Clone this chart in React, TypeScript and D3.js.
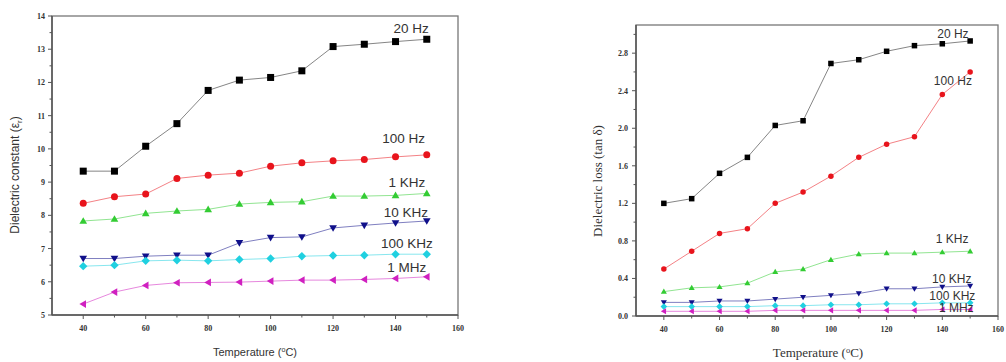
import React from "react";
import * as d3 from "d3";

const temps = [40, 50, 60, 70, 80, 90, 100, 110, 120, 130, 140, 150];
const seriesNames = ["20 Hz", "100 Hz", "1 KHz", "10 KHz", "100 KHz", "1 MHz"];
const seriesColors = ["#000000", "#e8141c", "#33cc33", "#10108a", "#20d0e0", "#d020c0"];
const seriesShapes = ["square", "circle", "triUp", "triDown", "diamond", "triLeft"];

const constant20Hz = [9.33, 9.33, 10.08, 10.76, 11.76, 12.07, 12.15, 12.35, 13.08, 13.15, 13.23, 13.3];
const constant100Hz = [8.36, 8.56, 8.64, 9.11, 9.21, 9.27, 9.48, 9.58, 9.64, 9.68, 9.76, 9.82];
const constant1KHz = [7.83, 7.89, 8.06, 8.13, 8.18, 8.34, 8.39, 8.41, 8.58, 8.58, 8.6, 8.66];
const constant10KHz = [6.7, 6.7, 6.77, 6.8, 6.8, 7.17, 7.33, 7.35, 7.62, 7.7, 7.77, 7.83];
const constant100KHz = [6.47, 6.5, 6.63, 6.65, 6.63, 6.67, 6.7, 6.77, 6.79, 6.8, 6.83, 6.83];
const constant1MHz = [5.33, 5.69, 5.89, 5.97, 5.98, 5.99, 6.02, 6.05, 6.05, 6.07, 6.1, 6.15];

const loss20Hz = [1.2, 1.25, 1.52, 1.69, 2.03, 2.08, 2.69, 2.73, 2.82, 2.88, 2.9, 2.93];
const loss100Hz = [0.5, 0.69, 0.88, 0.93, 1.2, 1.32, 1.49, 1.69, 1.83, 1.91, 2.36, 2.6];
const loss1KHz = [0.26, 0.3, 0.31, 0.35, 0.47, 0.5, 0.6, 0.66, 0.67, 0.67, 0.68, 0.69];
const loss10KHz = [0.145, 0.145, 0.16, 0.16, 0.18, 0.2, 0.22, 0.24, 0.29, 0.29, 0.31, 0.32];
const loss100KHz = [0.1, 0.1, 0.1, 0.1, 0.11, 0.11, 0.12, 0.12, 0.13, 0.13, 0.14, 0.14];
const loss1MHz = [0.05, 0.05, 0.05, 0.05, 0.06, 0.06, 0.06, 0.06, 0.06, 0.06, 0.07, 0.07];

const xTicks = [40, 60, 80, 100, 120, 140, 160];
const xMinorTicks = [50, 70, 90, 110, 130, 150];
const constantTicks = [5, 6, 7, 8, 9, 10, 11, 12, 13, 14];
const constantMinor = [5.5, 6.5, 7.5, 8.5, 9.5, 10.5, 11.5, 12.5, 13.5];
const lossTicks = [0, 0.4, 0.8, 1.2, 1.6, 2.0, 2.4, 2.8];
const lossMinor = [0.2, 0.6, 1.0, 1.4, 1.8, 2.2, 2.6, 3.0];

const constantData = [constant20Hz, constant100Hz, constant1KHz, constant10KHz, constant100KHz, constant1MHz];
const lossData = [loss20Hz, loss100Hz, loss1KHz, loss10KHz, loss100KHz, loss1MHz];

// label anchor positions (value-space: temperature, value) — baseline
const constantLabelPos: [number, number][] = [[145, 13.49], [142.6, 10.17], [143.6, 8.85], [143.3, 7.95], [143.6, 7.01], [143.6, 6.29]];
const lossLabelPos: [number, number][] = [[143.8, 2.96], [143.8, 2.46], [143.5, 0.78], [143.4, 0.35], [143.6, 0.17], [145, 0.04]];

function Marker({ shape, x, y, s, color }: { shape: string; x: number; y: number; s: number; color: string }) {
  const h = s / 2;
  if (shape === "square") return <rect x={x - h} y={y - h} width={s} height={s} fill={color} />;
  if (shape === "circle") return <circle cx={x} cy={y} r={h} fill={color} />;
  let pts = "";
  if (shape === "triUp") pts = `${x},${y - h * 1.1} ${x + h * 1.1},${y + h * 0.8} ${x - h * 1.1},${y + h * 0.8}`;
  if (shape === "triDown") pts = `${x},${y + h * 1.1} ${x + h * 1.1},${y - h * 0.8} ${x - h * 1.1},${y - h * 0.8}`;
  if (shape === "triLeft") pts = `${x - h * 1.1},${y} ${x + h * 0.8},${y - h * 1.1} ${x + h * 0.8},${y + h * 1.1}`;
  if (shape === "diamond") pts = `${x},${y - h * 1.2} ${x + h * 1.2},${y} ${x},${y + h * 1.2} ${x - h * 1.2},${y}`;
  return <polygon points={pts} fill={color} />;
}

type PanelProps = {
  left: number; right: number; top: number; bottom: number;
  yDomain: [number, number];
  yTicks: number[]; yMinor: number[]; yFmt: (v: number) => string;
  data: number[][];
  labelPos: [number, number][];
  markerSize: number;
  labelFont: string; labelSize: number;
  tickFont: string;
  yLabel: React.ReactNode; yLabelX: number; yLabelY: number; yLabelFont: string; yLabelSize: number;
  xLabelX: number; xLabelY: number; xLabelFont: string; xLabelSize: number;
  tickLabelDx: number;
};

function Panel(p: PanelProps) {
  const x = d3.scaleLinear().domain([30, 160]).range([p.left, p.right]);
  const y = d3.scaleLinear().domain(p.yDomain).range([p.bottom, p.top]);
  const line = d3.line<number>().x((_, i) => x(temps[i])).y((v) => y(v));
  const axisColor = "#555";
  return (
    <g>
      <rect x={p.left} y={p.top} width={p.right - p.left} height={p.bottom - p.top} fill="none" stroke="#777" strokeWidth={1.3} />
      <line x1={p.left} x2={p.right} y1={p.bottom} y2={p.bottom} stroke={axisColor} strokeWidth={1.5} />
      <line x1={p.left} x2={p.left} y1={p.top} y2={p.bottom} stroke={axisColor} strokeWidth={1.5} />
      {xTicks.map((t) => (
        <g key={"xt" + t}>
          <line x1={x(t)} x2={x(t)} y1={p.bottom} y2={p.bottom + 4} stroke={axisColor} strokeWidth={1} />
          <text x={x(t)} y={p.bottom + 16} textAnchor="middle" fontFamily={p.tickFont} fontSize={8} fontWeight="bold" fill="#333">{t}</text>
        </g>
      ))}
      {xMinorTicks.map((t) => (
        <line key={"xm" + t} x1={x(t)} x2={x(t)} y1={p.bottom} y2={p.bottom + 2.5} stroke={axisColor} strokeWidth={1} />
      ))}
      {p.yTicks.map((t) => (
        <g key={"yt" + t}>
          <line x1={p.left - 4} x2={p.left} y1={y(t)} y2={y(t)} stroke={axisColor} strokeWidth={1} />
          <text x={p.left - p.tickLabelDx} y={y(t) + 3} textAnchor="end" fontFamily={p.tickFont} fontSize={8} fontWeight="bold" fill="#333">{p.yFmt(t)}</text>
        </g>
      ))}
      {p.yMinor.map((t) => (
        <line key={"ym" + t} x1={p.left - 2.5} x2={p.left} y1={y(t)} y2={y(t)} stroke={axisColor} strokeWidth={1} />
      ))}
      {p.data.map((vals, si) => (
        <g key={"s" + si}>
          <path d={line(vals) || ""} fill="none" stroke={si === 0 ? "#777" : seriesColors[si]} strokeOpacity={si === 0 ? 1 : 0.6} strokeWidth={0.9} />
          {vals.map((v, i) => (
            <Marker key={i} shape={seriesShapes[si]} x={x(temps[i])} y={y(v)} s={p.markerSize} color={seriesColors[si]} />
          ))}
        </g>
      ))}
      {seriesNames.map((n, si) => (
        <text key={"lab" + si} x={x(p.labelPos[si][0])} y={y(p.labelPos[si][1])} textAnchor="middle" fontFamily={p.labelFont} fontSize={p.labelSize} fill="#333">{n}</text>
      ))}
      <text transform={`translate(${p.yLabelX},${p.yLabelY}) rotate(-90)`} textAnchor="middle" fontFamily={p.yLabelFont} fontSize={p.yLabelSize} fill="#333">{p.yLabel}</text>
      <text x={p.xLabelX} y={p.xLabelY} textAnchor="middle" fontFamily={p.xLabelFont} fontSize={p.xLabelSize} fill="#333">
        Temperature (<tspan fontSize={p.xLabelSize * 0.65} dy={-4}>o</tspan><tspan dy={4}>C)</tspan>
      </text>
    </g>
  );
}

export default function App() {
  return (
    <svg width={1006} height={362} style={{ position: "absolute", left: 0, top: 0, background: "#fff" }}>
      <Panel
        left={52} right={458} top={16} bottom={315}
        yDomain={[5, 14]} yTicks={constantTicks} yMinor={constantMinor} yFmt={(v) => String(v)}
        data={constantData} labelPos={constantLabelPos} markerSize={7}
        labelFont="Liberation Sans, Arial, sans-serif" labelSize={13.5}
        tickFont="Liberation Serif, serif"
        yLabel={<>Dielectric constant (ε<tspan fontSize={8} dy={3}>r</tspan><tspan dy={-3}>)</tspan></>}
        yLabelX={19} yLabelY={175} yLabelFont="Liberation Sans, Arial, sans-serif" yLabelSize={12}
        xLabelX={255} xLabelY={356} xLabelFont="Liberation Sans, Arial, sans-serif" xLabelSize={11}
        tickLabelDx={7}
      />
      <Panel
        left={636} right={998} top={25} bottom={316}
        yDomain={[0, 3.1]} yTicks={lossTicks} yMinor={lossMinor} yFmt={(v) => v.toFixed(1)}
        data={lossData} labelPos={lossLabelPos} markerSize={5.5}
        labelFont="Liberation Sans, Arial, sans-serif" labelSize={12}
        tickFont="Liberation Serif, serif"
        yLabel={<>Dielectric loss (tan δ)</>}
        yLabelX={602} yLabelY={181} yLabelFont="Liberation Serif, serif" yLabelSize={13}
        xLabelX={818} xLabelY={357} xLabelFont="Liberation Serif, serif" xLabelSize={13}
        tickLabelDx={8}
      />
    </svg>
  );
}
